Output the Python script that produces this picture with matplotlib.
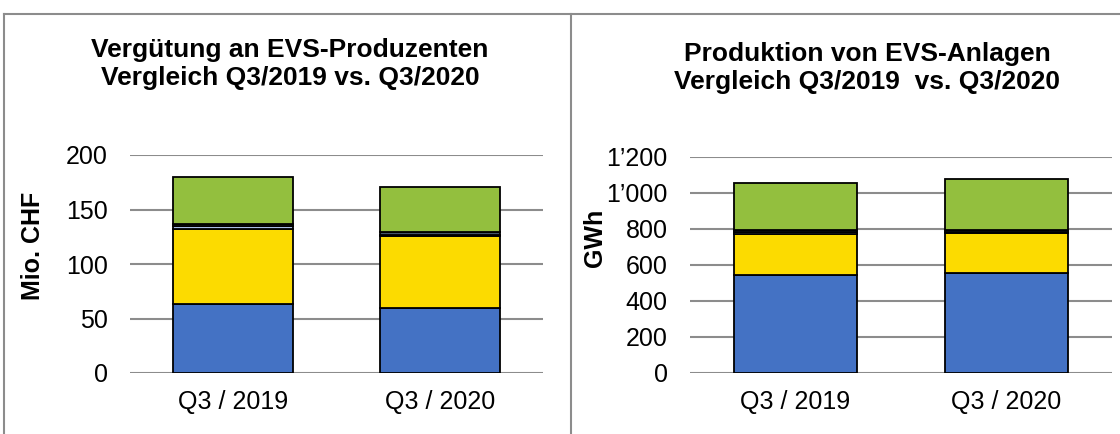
import matplotlib.pyplot as plt
from matplotlib.lines import Line2D
import numpy as np

plt.rcParams['font.family'] = ['Liberation Sans', 'DejaVu Sans']

# Data
QUARTERS = ["Q3 / 2019", "Q3 / 2020"]
SEG_COLORS = ['#4472C4', '#FCDB00', '#A9BEE6', '#44546A', '#93BF3E']

CHF_BLUE = [63, 60]
CHF_YELLOW = [69, 66]
CHF_LIGHT = [3, 1]
CHF_DARK = [1.5, 2]
CHF_GREEN = [43, 42]

GWH_BLUE = [545, 553]
GWH_YELLOW = [228, 222]
GWH_LIGHT = [12, 8]
GWH_DARK = [8, 14]
GWH_GREEN = [265, 278]

CHF_TICKS = [0, 50, 100, 150, 200]
GWH_TICKS = [0, 200, 400, 600, 800, 1000, 1200]
GWH_TICKLABELS = ['0', '200', '400', '600', '800', '1\u2019000', '1\u2019200']

fig = plt.figure(figsize=(11.2, 4.34), dpi=100)
W, H = 1120, 434


def draw(ax, series, ticks, ticklabels, ylabel):
    x = np.arange(len(QUARTERS))
    bottom = np.zeros(len(QUARTERS))
    for vals, col in zip(series, SEG_COLORS):
        ax.bar(x, vals, bottom=bottom, width=0.58, color=col,
               edgecolor='black', linewidth=1.3, zorder=3)
        bottom += np.array(vals)
    ax.set_xlim(-0.5, 1.5)
    ax.set_ylim(0, ticks[-1])
    ax.set_yticks(ticks)
    ax.set_yticklabels(ticklabels)
    ax.set_xticks(x)
    ax.set_xticklabels(QUARTERS)
    ax.tick_params(length=0, labelsize=18)
    ax.tick_params(axis='y', pad=16)
    ax.tick_params(axis='x', pad=12)
    for s in ax.spines.values():
        s.set_visible(False)
    ax.grid(axis='y', color='#8c8c8c', linewidth=1.5, zorder=0)
    ax.set_ylabel(ylabel, fontsize=18, fontweight='bold')


# left panel: px 130..543, 155..373
ax1 = fig.add_axes([130 / W, 1 - 373 / H, 413 / W, 218 / H])
draw(ax1, [CHF_BLUE, CHF_YELLOW, CHF_LIGHT, CHF_DARK, CHF_GREEN],
     CHF_TICKS, [str(t) for t in CHF_TICKS], 'Mio. CHF')
ax1.yaxis.set_label_coords(-85 / 413, (373 - 246) / 218)
fig.text(290 / W, 1 - 64 / H,
         'Vergütung an EVS-Produzenten\nVergleich Q3/2019 vs. Q3/2020',
         ha='center', va='center', fontsize=19, fontweight='bold',
         linespacing=1.2)

# right panel: px 690..1112, 157..373
ax2 = fig.add_axes([690 / W, 1 - 373 / H, 422 / W, 216 / H])
draw(ax2, [GWH_BLUE, GWH_YELLOW, GWH_LIGHT, GWH_DARK, GWH_GREEN],
     GWH_TICKS, GWH_TICKLABELS, 'GWh')
ax2.yaxis.set_label_coords(-83 / 422, (373 - 238) / 216)
fig.text(867 / W, 1 - 68 / H,
         'Produktion von EVS-Anlagen\nVergleich Q3/2019  vs. Q3/2020',
         ha='center', va='center', fontsize=19, fontweight='bold',
         linespacing=1.2)

# panel frames
frame = dict(color='#8c8c8c', linewidth=1.5, transform=fig.transFigure)
fig.add_artist(Line2D([3.5 / W, 1], [1 - 13.5 / H] * 2, **frame))
fig.add_artist(Line2D([3.5 / W] * 2, [0, 1 - 13.5 / H], **frame))
fig.add_artist(Line2D([571 / W] * 2, [0, 1 - 13.5 / H], **frame))

plt.savefig('out.png', dpi=100)
